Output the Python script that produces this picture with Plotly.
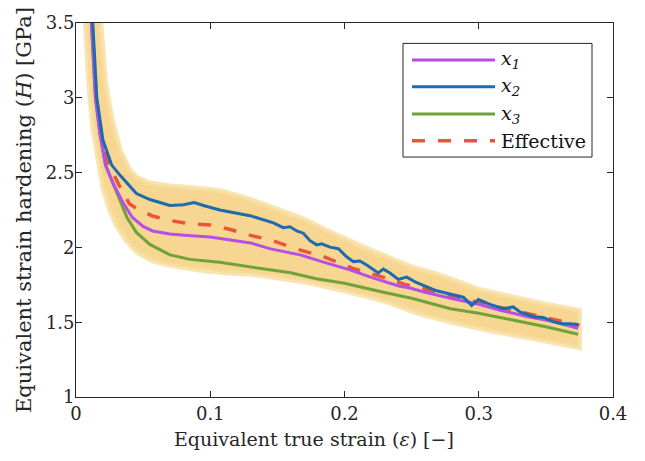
import plotly.graph_objects as go

# ---------------- data ----------------
band_upper_x = [0.0185, 0.022, 0.027, 0.033, 0.040, 0.045, 0.055, 0.070, 0.085, 0.107, 0.127, 0.145, 0.170, 0.190, 0.220, 0.250, 0.270, 0.300, 0.330, 0.350, 0.375]
band_upper_y = [3.50, 3.10, 2.85, 2.65, 2.52, 2.47, 2.43, 2.41, 2.40, 2.38, 2.33, 2.27, 2.19, 2.10, 1.98, 1.87, 1.82, 1.72, 1.66, 1.62, 1.58]
band_lower_x = [0.0070, 0.0095, 0.0125, 0.016, 0.020, 0.025, 0.030, 0.037, 0.045, 0.057, 0.070, 0.090, 0.110, 0.130, 0.145, 0.170, 0.200, 0.230, 0.254, 0.280, 0.310, 0.340, 0.375]
band_lower_y = [3.50, 3.10, 2.80, 2.60, 2.40, 2.25, 2.15, 2.05, 1.97, 1.91, 1.88, 1.85, 1.83, 1.82, 1.80, 1.77, 1.71, 1.64, 1.56, 1.50, 1.44, 1.39, 1.33]

x1_x = [0.0115, 0.0145, 0.018, 0.022, 0.028, 0.035, 0.042, 0.050, 0.057, 0.070, 0.083, 0.100, 0.115, 0.130, 0.145, 0.167, 0.185, 0.204, 0.220, 0.233, 0.241, 0.248, 0.260, 0.279, 0.300, 0.316, 0.335, 0.353, 0.374]
x1_y = [3.50, 3.00, 2.75, 2.55, 2.42, 2.30, 2.20, 2.14, 2.11, 2.09, 2.08, 2.07, 2.05, 2.03, 1.99, 1.95, 1.90, 1.85, 1.80, 1.76, 1.74, 1.73, 1.70, 1.66, 1.62, 1.58, 1.54, 1.51, 1.46]

x2_x = [0.0125, 0.0155, 0.020, 0.0266, 0.033, 0.040, 0.045, 0.055, 0.070, 0.080, 0.088, 0.095, 0.107, 0.1296, 0.1395, 0.147, 0.1544, 0.1594, 0.1644, 0.1693, 0.1743, 0.1793, 0.183, 0.1892, 0.1954, 0.2016, 0.2066, 0.2115, 0.2165, 0.2252, 0.2289, 0.2339, 0.2401, 0.2463, 0.2538, 0.2612, 0.2687, 0.2786, 0.2885, 0.2947, 0.2997, 0.3084, 0.3183, 0.3257, 0.3307, 0.3406, 0.3481, 0.3555, 0.3618, 0.368, 0.3742]
x2_y = [3.50, 3.00, 2.72, 2.55, 2.48, 2.41, 2.36, 2.32, 2.28, 2.285, 2.30, 2.28, 2.25, 2.212, 2.186, 2.164, 2.132, 2.138, 2.110, 2.095, 2.045, 2.017, 2.024, 2.002, 1.991, 1.937, 1.905, 1.909, 1.883, 1.829, 1.855, 1.829, 1.786, 1.801, 1.764, 1.736, 1.710, 1.688, 1.667, 1.612, 1.651, 1.619, 1.591, 1.602, 1.569, 1.537, 1.532, 1.504, 1.489, 1.489, 1.483]

x3_x = [0.0115, 0.0145, 0.018, 0.022, 0.028, 0.033, 0.038, 0.045, 0.055, 0.070, 0.085, 0.107, 0.130, 0.145, 0.160, 0.179, 0.200, 0.229, 0.250, 0.279, 0.300, 0.328, 0.350, 0.374]
x3_y = [3.50, 3.00, 2.75, 2.55, 2.42, 2.31, 2.20, 2.10, 2.02, 1.95, 1.92, 1.90, 1.87, 1.85, 1.83, 1.79, 1.76, 1.70, 1.66, 1.59, 1.56, 1.51, 1.47, 1.42]

eff_x = [0.0120, 0.015, 0.019, 0.024, 0.028, 0.034, 0.040, 0.047, 0.057, 0.070, 0.083, 0.100, 0.115, 0.130, 0.145, 0.164, 0.184, 0.206, 0.229, 0.246, 0.270, 0.300, 0.330, 0.350, 0.375]
eff_y = [3.50, 3.00, 2.73, 2.56, 2.49, 2.38, 2.29, 2.25, 2.21, 2.18, 2.16, 2.15, 2.12, 2.08, 2.05, 1.99, 1.94, 1.86, 1.80, 1.75, 1.70, 1.63, 1.57, 1.53, 1.48]

series_names = ["<i>x<sub>1</sub></i>", "<i>x<sub>2</sub></i>", "<i>x<sub>3</sub></i>", "Effective"]
series_colors = ["#B44FE8", "#1B6BAE", "#6FA33A", "#E9553B"]
series_dash = ["solid", "solid", "solid", "13px,13px"]

x_ticks = [0, 0.1, 0.2, 0.3, 0.4]
x_tick_text = ["0", "0.1", "0.2", "0.3", "0.4"]
y_ticks = [1, 1.5, 2, 2.5, 3, 3.5]
y_tick_text = ["1", "1.5", "2", "2.5", "3", "3.5"]

x_title = "Equivalent true strain (<i>ε</i>) [−]"
y_title = "Equivalent strain hardening (<i>H</i>) [GPa]"

FONT = "DejaVu Serif"
AX = "#262626"
TXT = "#262626"

fig = go.Figure()

# scatter band
fig.add_trace(go.Scatter(
    x=band_upper_x + band_lower_x[::-1],
    y=band_upper_y + band_lower_y[::-1],
    fill="toself", fillcolor="#F6D690",
    line=dict(color="rgba(248,222,160,0.8)", width=5),
    mode="lines", showlegend=False, hoverinfo="skip"))

# effective below the others
fig.add_trace(go.Scatter(x=eff_x, y=eff_y, mode="lines", name="Effective",
                         line=dict(color=series_colors[3], width=3.5, dash=series_dash[3]),
                         showlegend=False))
for xs, ys, i in [(x3_x, x3_y, 2), (x1_x, x1_y, 0), (x2_x, x2_y, 1)]:
    fig.add_trace(go.Scatter(x=xs, y=ys, mode="lines", name="x%d" % (i + 1),
                             line=dict(color=series_colors[i], width=3),
                             showlegend=False))

# ---------------- manual legend (MATLAB-style long line samples) ----------------
L, R, T, B = 76, 613, 12, 397
W, H = R - L, B - T
def px(v): return (v - L) / W
def py(v): return (B - v) / H

fig.add_shape(type="rect", xref="paper", yref="paper",
              x0=px(403), x1=px(592), y0=py(150), y1=py(33),
              line=dict(color=AX, width=1), fillcolor="white", layer="above")
rows = [50, 77.7, 105.7, 133.3]
for i, yy in enumerate(rows):
    fig.add_shape(type="line", xref="paper", yref="paper",
                  x0=px(412), x1=px(495), y0=py(yy), y1=py(yy),
                  line=dict(color=series_colors[i], width=3.5 if i == 3 else 3,
                            dash=series_dash[i]), layer="above")
    fig.add_annotation(xref="paper", yref="paper", x=px(499), y=py(yy),
                       text=series_names[i], showarrow=False, xanchor="left",
                       yanchor="middle", font=dict(family=FONT, size=19, color="#111"))

# x-axis title (MATLAB placed it slightly left of the axes centre)
fig.add_annotation(xref="paper", yref="paper", x=px(314), y=py(440),
                   text=x_title, showarrow=False, xanchor="center", yanchor="middle",
                   font=dict(family=FONT, size=19, color=TXT))

fig.update_layout(
    width=645, height=461,
    margin=dict(l=L, r=645 - R, t=T, b=461 - B),
    paper_bgcolor="white", plot_bgcolor="white",
    font=dict(family=FONT, size=19, color=TXT),
    showlegend=False,
)
fig.update_xaxes(range=[0, 0.4], tickvals=x_ticks, ticktext=x_tick_text,
                 ticks="inside", ticklen=6, tickcolor=AX, tickwidth=1,
                 tickfont=dict(family=FONT, size=18, color=TXT),
                 showline=True, linecolor=AX, linewidth=1, mirror="ticks",
                 showgrid=False, zeroline=False)
fig.update_yaxes(range=[1, 3.5], tickvals=y_ticks, ticktext=y_tick_text,
                 ticks="inside", ticklen=6, tickcolor=AX, tickwidth=1,
                 tickfont=dict(family=FONT, size=18, color=TXT),
                 ticklabelstandoff=-3,
                 showline=True, linecolor=AX, linewidth=1, mirror="ticks",
                 showgrid=False, zeroline=False,
                 title=dict(text=y_title, standoff=8,
                            font=dict(family=FONT, size=21, color=TXT)))

fig.write_html("out.html")
